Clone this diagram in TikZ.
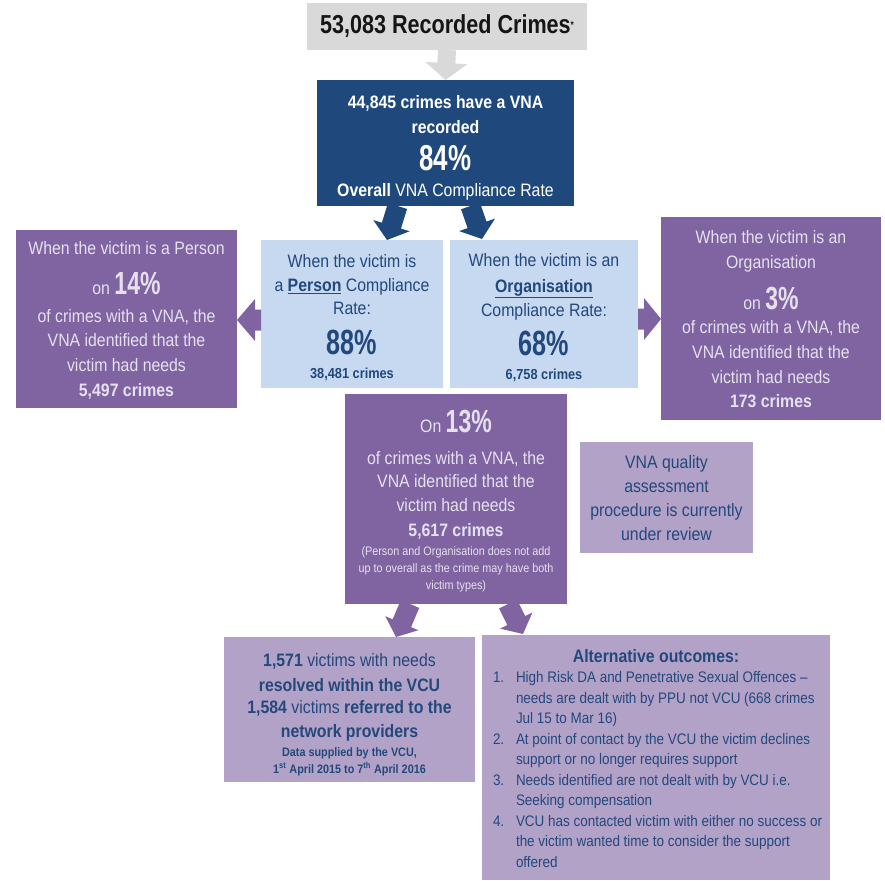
\documentclass[tikz,border=0pt]{standalone}
\usepackage{fontspec}
\setmainfont{Liberation Sans}[FakeStretch=0.88]
\newfontfamily\numfont{Liberation Sans}[FakeStretch=0.72]
\newfontfamily\titlefont{Liberation Sans}[FakeStretch=0.83]
\usetikzlibrary{calc}
\definecolor{greyfill}{HTML}{D9D9D9}
\definecolor{darkblue}{HTML}{1F497D}
\definecolor{lightblue}{HTML}{C6D9F1}
\definecolor{purplefill}{HTML}{8064A2}
\definecolor{lightpurple}{HTML}{B3A2C7}
\definecolor{lavtext}{HTML}{E6E0EE}
\definecolor{bluetext}{HTML}{23487C}
\definecolor{nearblack}{HTML}{151515}
\newcommand{\barrow}[6]{%
  \path (#2) coordinate (bas);
  \path ($(#3)!#6!(#2)$) coordinate (bah);
  \fill[#1] ($(bas)!#4!90:(bah)$) -- ($(bah)!#4!-90:(bas)$) -- ($(bah)!#5!-90:(bas)$)
    -- (#3) -- ($(bah)!#5!90:(bas)$) -- ($(bah)!#4!90:(bas)$) -- ($(bas)!#4!-90:(bah)$) -- cycle;
}
\newcommand{\numA}[1]{{\numfont\fontsize{35}{24}\selectfont\bfseries #1}}
\newcommand{\numB}[1]{{\numfont\fontsize{32}{24}\selectfont\bfseries #1}}
\newcommand{\numC}[1]{{\numfont\fontsize{36}{24}\selectfont\bfseries #1}}
\newcommand{\crimesfont}{\fontsize{14.5}{24}\selectfont\bfseries}
\newcommand{\smallnote}{\fontsize{12.3}{24}\selectfont}
\newcommand{\smallbold}{\fontsize{12.3}{24}\selectfont\bfseries}
\begin{document}
\begin{tikzpicture}[x=1pt,y=-1pt,
  box/.style={inner sep=0pt, outer sep=0pt},
  tx/.style={inner sep=0pt, outer sep=0pt, align=center},
  greybox/.style={box, fill=greyfill},
  darkbox/.style={box, fill=darkblue},
  lbbox/.style={box, fill=lightblue},
  pbox/.style={box, fill=purplefill},
  lpbox/.style={box, fill=lightpurple},
  wtx/.style={tx, text=white, font=\fontsize{18}{24}\selectfont},
  btx/.style={tx, text=bluetext, font=\fontsize{18}{24}\selectfont},
  ptx/.style={tx, text=lavtext, font=\fontsize{18}{24}\selectfont}]
\useasboundingbox (0,0) rectangle (885,880);

% boxes
\node[greybox, minimum width=280, minimum height=47] (top) at (447,26.5) {};
\node[tx, text=nearblack] (top-t) at (top.center)
  {\titlefont\fontsize{26}{30}\selectfont\bfseries 53,083 Recorded Crimes\raisebox{5pt}{\fontsize{10}{10}\selectfont *}};

\node[darkbox, minimum width=257, minimum height=126] (dark) at (445.5,143) {};
\node[wtx] (dark-t) at ($(dark.center)+(0,5)$)
  {\bfseries 44,845 crimes have a VNA\\[1pt] \bfseries recorded\\[10pt] \numC{84\%}\\[2pt] \textbf{Overall} VNA Compliance Rate};

\node[lbbox, minimum width=182, minimum height=148] (lbl) at (352,314) {};
\node[btx] (lbl-t) at ($(lbl.center)+(0,3.5)$)
  {When the victim is\\ a \underline{\textbf{Person}} Compliance\\[-1pt] Rate:\\[14pt] \numA{88\%}\\ \crimesfont 38,481 crimes};

\node[lbbox, minimum width=188, minimum height=148] (lbr) at (544,314) {};
\node[btx] (lbr-t) at ($(lbr.center)+(0,3.5)$)
  {When the victim is an\\[2pt] \underline{\textbf{Organisation}}\\ Compliance Rate:\\[10pt] \numA{68\%}\\ \crimesfont 6,758 crimes};

\node[pbox, minimum width=221, minimum height=178] (pl) at (126.5,319) {};
\node[ptx] (pl-t) at ($(pl.center)+(0,1.5)$)
  {When the victim is a Person\\[16pt] on \numB{14\%}\\[4pt] of crimes with a VNA, the\\ VNA identified that the\\[1pt] victim had needs\\[1pt] \textbf{5,497 crimes}};

\node[pbox, minimum width=220, minimum height=203] (pr) at (771,318.5) {};
\node[ptx] (pr-t) at ($(pr.center)+(0,0.5)$)
  {When the victim is an\\[1pt] Organisation\\[14pt] on \numB{3\%}\\[0pt] of crimes with a VNA, the\\[1pt] VNA identified that the\\[1pt] victim had needs\\ \textbf{173 crimes}};

\node[pbox, minimum width=222, minimum height=210] (pm) at (456,499) {};
\node[ptx] (pm-t) at ($(pm.center)+(0,2.5)$)
  {On \numB{13\%}\\[8pt] of crimes with a VNA, the\\[-1pt] VNA identified that the\\[0pt] victim had needs\\[1pt] \textbf{5,617 crimes}\\[-5pt]
   \smallnote (Person and Organisation does not add\\[-7pt] \smallnote up to overall as the crime may have both\\[-7pt] \smallnote victim types)};

\node[lpbox, minimum width=173, minimum height=111] (vq) at (666.5,497.5) {};
\node[btx] (vq-t) at ($(vq.center)+(0,1)$)
  {VNA quality\\ assessment\\ procedure is currently\\ under review};

\node[lpbox, minimum width=251, minimum height=145] (bl) at (349.5,709.5) {};
\node[btx] (bl-t) at ($(bl.center)+(0,5)$)
  {\textbf{1,571} victims with needs\\[1pt] \textbf{resolved within the VCU}\\[-2pt] \textbf{1,584} victims \textbf{referred to the}\\[0pt] \textbf{network providers}\\[-5pt]
   \smallbold Data supplied by the VCU,\\[-7pt] \smallbold 1\textsuperscript{st} April 2015 to 7\textsuperscript{th} April 2016};

\node[lpbox, minimum width=348, minimum height=245] (br) at (656,757.5) {};
\node[tx, text=bluetext, font=\fontsize{18}{20}\selectfont\bfseries, anchor=base] (brt) at (656,662) {Alternative outcomes:};
\node[tx, text=bluetext, anchor=north west, font=\fontsize{15.3}{20.5}\selectfont] (brl) at (493,668.6)
  {\begin{tabular}{@{}l@{}l@{}}
   \makebox[23pt][l]{1.} & High Risk DA and Penetrative Sexual Offences --\\
      & needs are dealt with by PPU not VCU (668 crimes\\
      & Jul 15 to Mar 16)\\
   \makebox[23pt][l]{2.} & At point of contact by the VCU the victim declines\\
      & support or no longer requires support\\
   \makebox[23pt][l]{3.} & Needs identified are not dealt with by VCU i.e.\\
      & Seeking compensation\\
   \makebox[23pt][l]{4.} & VCU has contacted victim with either no success or\\
      & the victim wanted time to consider the support\\
      & offered
   \end{tabular}};

% block arrows
\coordinate (a1s) at (top.south);
\coordinate (a1e) at (dark.north);
\barrow{greyfill}{a1s}{a1e}{9pt}{21pt}{17pt}
\coordinate (a2s) at ($(dark.south)+(-48,0)$);
\coordinate (a2e) at ($(lbl.north)+(35,0)$);
\barrow{darkblue}{a2s}{a2e}{10pt}{19pt}{15pt}
\coordinate (a3s) at ($(dark.south)+(25,0)$);
\coordinate (a3e) at ($(lbr.north)+(-62,-1)$);
\barrow{darkblue}{a3s}{a3e}{10pt}{19pt}{15pt}
\coordinate (a4s) at ($(lbl.west)+(0,6)$);
\coordinate (a4e) at ($(pl.east)+(0,1)$);
\barrow{purplefill}{a4s}{a4e}{10.5pt}{21pt}{18pt}
\coordinate (a5s) at ($(lbr.east)+(0,5)$);
\coordinate (a5e) at ($(pr.west)+(0,0.5)$);
\barrow{purplefill}{a5s}{a5e}{10.5pt}{21pt}{17pt}
\coordinate (a6s) at ($(pm.south)+(-46,0)$);
\coordinate (a6e) at ($(bl.north)+(46.5,0)$);
\barrow{purplefill}{a6s}{a6e}{10pt}{18pt}{15pt}
\coordinate (a7s) at ($(pm.south)+(52,0)$);
\coordinate (a7e) at ($(br.north)+(-133,-1)$);
\barrow{purplefill}{a7s}{a7e}{10pt}{18pt}{15pt}
\end{tikzpicture}
\end{document}
